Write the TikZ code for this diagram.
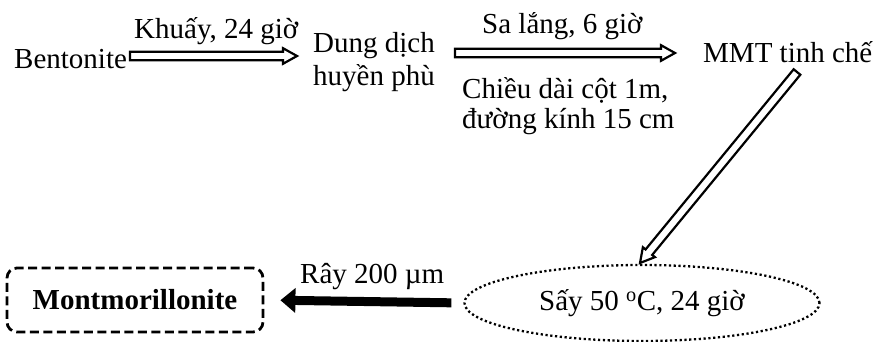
\documentclass[tikz,border=0pt]{standalone}
\usepackage{fontspec}
\setmainfont{Liberation Serif}
\usetikzlibrary{arrows.meta,shapes.geometric,calc}
% hollow block arrow from #1 to #2
\newcommand\hollowarrow[2]{%
  \path ($(#2)!14pt!(#1)$) coordinate (hbase);
  \draw[hollowline]
    ($(#1)!4.3pt!-90:(#2)$) -- ($(hbase)!4.3pt!-90:(#2)$) -- ($(hbase)!7.8pt!-90:(#2)$) --
    (#2) -- ($(hbase)!7.8pt!90:(#2)$) -- ($(hbase)!4.3pt!90:(#2)$) --
    ($(#1)!4.3pt!90:(#2)$) -- cycle;}
\begin{document}
\begin{tikzpicture}[x=1pt,y=-1pt,
  txt/.style={inner sep=0pt, anchor=base west, font=\fontsize{29}{33}\selectfont},
  hollowline/.style={line width=2.2pt, line join=miter, fill=white},
  solidarrow/.style={line width=9pt, -{Triangle[length=15pt,width=24pt]}},
  dashbox/.style={draw, rounded corners=10pt, line width=2.8pt, dash pattern=on 9pt off 4.5pt,
    minimum width=256pt, minimum height=64pt, inner sep=0pt,
    font=\fontsize{29}{33}\selectfont\bfseries},
  dotell/.style={draw, ellipse, line width=2.3pt, dash pattern=on 2.2pt off 2.6pt,
    minimum width=355pt, minimum height=76pt, inner sep=0pt,
    font=\fontsize{29}{33}\selectfont}]
\useasboundingbox (0,0) rectangle (881,342);

\node[txt] (bent) at (14,69) {Bentonite};
\node[txt] (khuay) at (134,39) {Khuấy, 24 giờ};
\node[txt] (dung) at (313,53) {\fontsize{29}{33}\selectfont\renewcommand\arraystretch{1}\begin{tabular}[t]{@{}l@{}}Dung dịch\\huyền phù\end{tabular}};
\node[txt] (sa) at (482,34) {Sa lắng, 6 giờ};
\node[txt] (chieu) at (462,99) {\fontsize{29}{30}\selectfont\renewcommand\arraystretch{1}\begin{tabular}[t]{@{}l@{}}Chiều dài cột 1m,\\đường kính 15 cm\end{tabular}};
\node[txt] (mmt) at (703,63) {MMT tinh chế};
\node[dotell] (say) at (642,303) {Sấy 50~\textsuperscript{o}C, 24 giờ};
\node[txt] (ray) at (300,283) {Rây 200 µm};
\node[dashbox] (mont) at (135,300) {Montmorillonite};

\coordinate (a1s) at (130,56);
\coordinate (a1e) at (297,56);
\coordinate (a2s) at (455,53);
\coordinate (a2e) at (675,53);
\coordinate (a3s) at (797,72);
\coordinate (a3e) at (640,263);

\hollowarrow{a1s}{a1e}
\hollowarrow{a2s}{a2e}
\hollowarrow{a3s}{a3e}
\draw[solidarrow, shorten <=12pt, shorten >=16pt] (say.west) -- (mont.east);
\end{tikzpicture}
\end{document}
